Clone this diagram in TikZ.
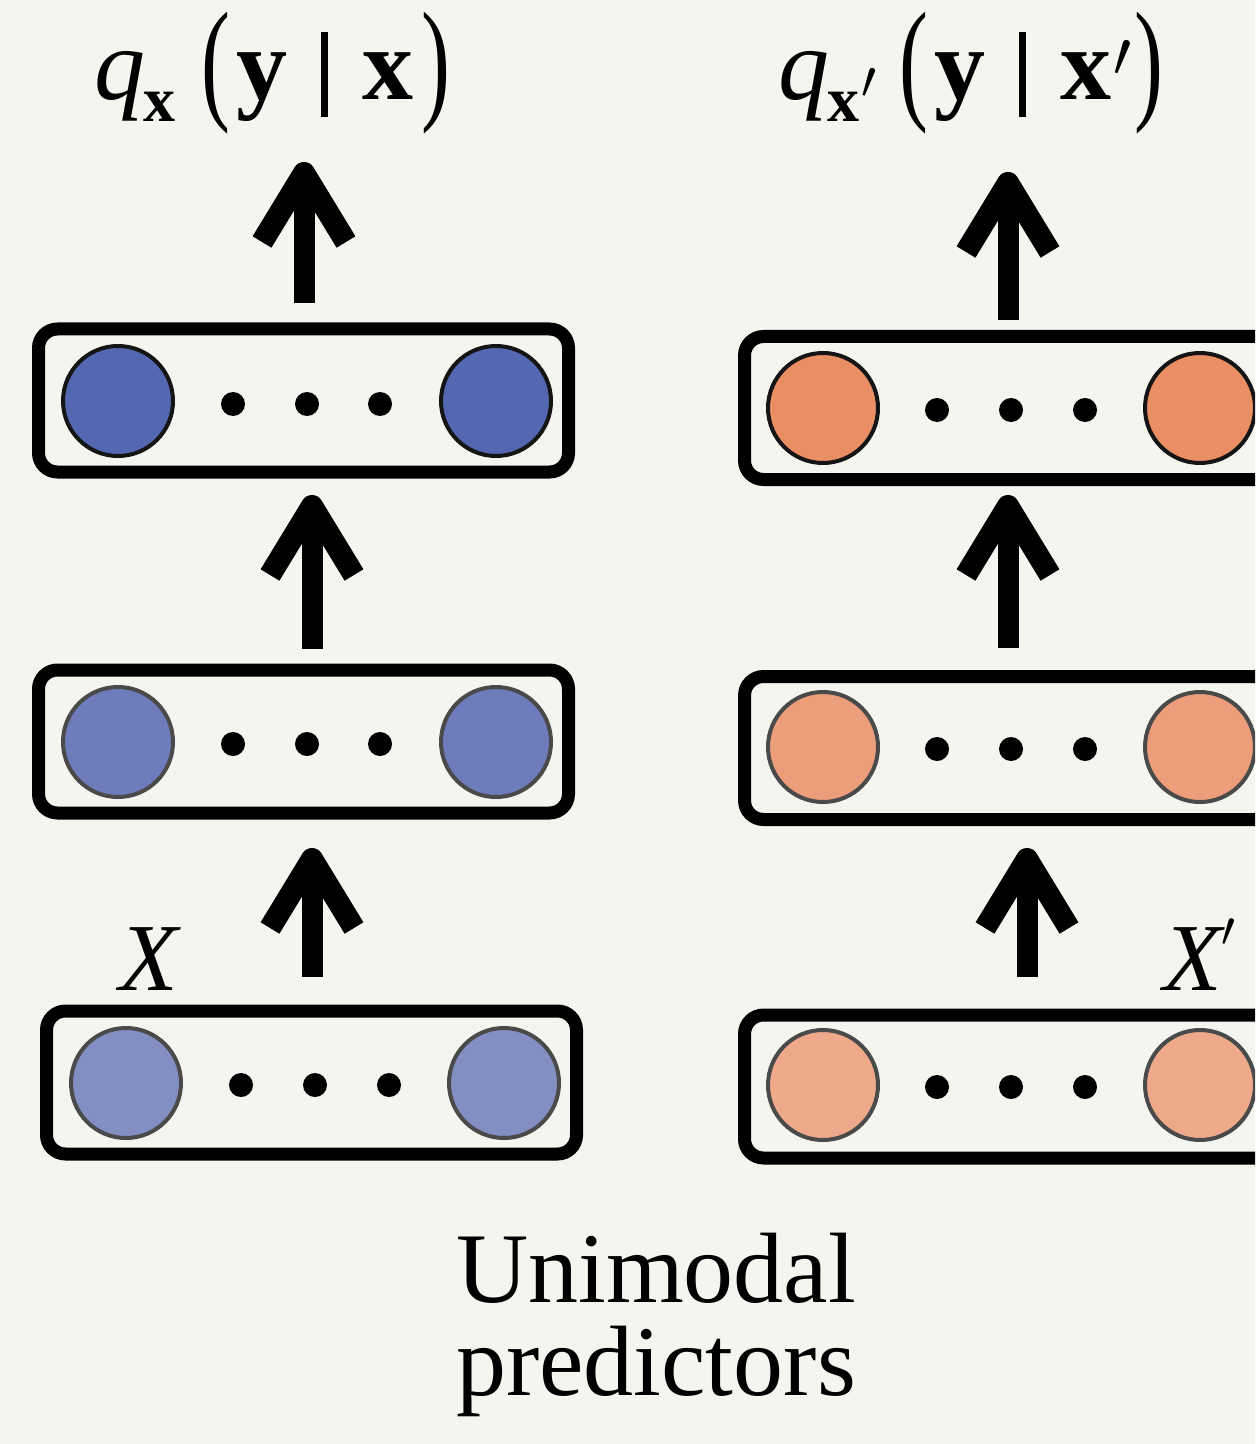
\documentclass[tikz,border=0pt]{standalone}
\usepackage{fontspec}
\usepackage{graphicx}
\setmainfont{Liberation Serif}
\usetikzlibrary{calc}

\definecolor{bgpaper}{HTML}{F5F5F0}
\definecolor{blueA}{HTML}{5468B2}
\definecolor{blueB}{HTML}{6E7CBC}
\definecolor{blueC}{HTML}{838FC3}
\definecolor{orangeA}{HTML}{EA8F64}
\definecolor{orangeB}{HTML}{EC9E7B}
\definecolor{orangeC}{HTML}{EEA98A}
\definecolor{rimdark}{HTML}{151515}
\definecolor{rimgrey}{HTML}{4A4A4A}

\tikzset{
  layerbox/.style={draw=black, line width=6.5pt, rounded corners=9.5pt,
    minimum width=265pt, minimum height=71.5pt, inner sep=0pt},
  unit/.style={circle, line width=2pt, minimum size=55pt, inner sep=0pt},
  ell/.style={circle, fill=black, minimum size=12pt, inner sep=0pt},
  shaftline/.style={line width=10.5pt},
  chevron/.style={line width=11pt, line join=round},
  mathlabel/.style={inner sep=0pt, anchor=base, font=\fontsize{48}{56}\selectfont},
  titlelabel/.style={inner sep=0pt, anchor=base west, font=\fontsize{51}{56}\selectfont},
  caption/.style={inner sep=0pt, anchor=base, font=\fontsize{50}{56}\selectfont},
}

% thick upward arrow: shaft from #1, open chevron head with its apex at #2
\newcommand\uparrowhead[2]{%
  \draw[shaftline] (#1) -- ($(#2)+(0,11)$);
  \draw[chevron] ($(#2)+(-42,80)$) -- ($(#2)+(0,11)$) -- ($(#2)+(42,80)$);
}
% pieces of the conditional-probability titles
\newcommand\subx[1]{\raisebox{-11pt}{\fontsize{32}{32}\selectfont\textbf{x}#1}}
\newcommand\tallparen[1]{\raisebox{-3pt}{\scalebox{0.85}[1.32]{#1}}}
\newcommand\condbar{\rule[-8.5pt]{3.5pt}{42.5pt}}
\newcommand\pr{\hspace{1pt}\scalebox{1.3}{$^{\prime}$}}

\begin{document}
\begin{tikzpicture}[x=0.5pt, y=-0.5pt]
  \fill[bgpaper] (0,0) rectangle (1255,1444);
  \useasboundingbox (0,0) rectangle (1255,1444);
  \clip (0,0) rectangle (1255,1444);

  % ---------- left stack ----------
  \node[layerbox] (L1) at (311.5,1082.5) {};
  \node[layerbox] (L2) at (303.5,741.5) {};
  \node[layerbox] (L3) at (303.5,400.5) {};

  \node[unit, fill=blueC, draw=rimgrey] (L1a) at (126,1083) {};
  \node[unit, fill=blueC, draw=rimgrey] (L1b) at (504,1083) {};
  \node[ell] (L1d1) at (241,1085) {};
  \node[ell] (L1d2) at (315,1085) {};
  \node[ell] (L1d3) at (389,1085) {};

  \node[unit, fill=blueB, draw=rimgrey] (L2a) at (118,742) {};
  \node[unit, fill=blueB, draw=rimgrey] (L2b) at (496,742) {};
  \node[ell] (L2d1) at (233,744) {};
  \node[ell] (L2d2) at (307,744) {};
  \node[ell] (L2d3) at (380,744) {};

  \node[unit, fill=blueA, draw=rimdark] (L3a) at (118,401) {};
  \node[unit, fill=blueA, draw=rimdark] (L3b) at (496,401) {};
  \node[ell] (L3d1) at (233,404) {};
  \node[ell] (L3d2) at (307,404) {};
  \node[ell] (L3d3) at (380,404) {};

  \node[mathlabel] (Xin) at (150,990) {\textit{X}};
  \node[titlelabel] (qL) at (94,100)
    {\textit{q}\hspace{-1pt}\subx{}\hspace{13pt}\tallparen{(}\hspace{3pt}\textbf{y}\hspace{17pt}\condbar\hspace{17pt}\textbf{x}\hspace{4pt}\tallparen{)}};

  \coordinate (la1s) at ($(L1.north)+(0.5,-28)$);
  \coordinate (la1t) at (312,848);
  \coordinate (la2s) at ($(L2.north)+(8.5,-15)$);
  \coordinate (la2t) at (312,495);
  \coordinate (la3s) at ($(L3.north)+(0.5,-19)$);
  \coordinate (la3t) at (304,162);
  \uparrowhead{la1s}{la1t}
  \uparrowhead{la2s}{la2t}
  \uparrowhead{la3s}{la3t}

  % ---------- right stack ----------
  \node[layerbox] (R1) at (1009.5,1086.5) {};
  \node[layerbox] (R2) at (1009.5,748) {};
  \node[layerbox] (R3) at (1009.5,408) {};

  \node[unit, fill=orangeC, draw=rimgrey] (R1a) at (823,1085) {};
  \node[unit, fill=orangeC, draw=rimgrey] (R1b) at (1200,1085) {};
  \node[ell] (R1d1) at (937,1087) {};
  \node[ell] (R1d2) at (1011,1087) {};
  \node[ell] (R1d3) at (1085,1087) {};

  \node[unit, fill=orangeB, draw=rimgrey] (R2a) at (823,747) {};
  \node[unit, fill=orangeB, draw=rimgrey] (R2b) at (1200,747) {};
  \node[ell] (R2d1) at (937,749) {};
  \node[ell] (R2d2) at (1011,749) {};
  \node[ell] (R2d3) at (1085,749) {};

  \node[unit, fill=orangeA, draw=rimdark] (R3a) at (823,408) {};
  \node[unit, fill=orangeA, draw=rimdark] (R3b) at (1200,408) {};
  \node[ell] (R3d1) at (937,410) {};
  \node[ell] (R3d2) at (1011,410) {};
  \node[ell] (R3d3) at (1085,410) {};

  \node[mathlabel] (Xpin) at (1200,990) {$\textit{X}'$};
  \node[titlelabel] (qR) at (778,100)
    {\textit{q}\hspace{-1pt}\subx{\pr}\hspace{11pt}\tallparen{(}\hspace{3pt}\textbf{y}\hspace{17pt}\condbar\hspace{17pt}\textbf{x}\pr\hspace{1pt}\tallparen{)}};

  \coordinate (ra1s) at (1027,977);
  \coordinate (ra1t) at (1027,848);
  \coordinate (ra2s) at (1008,648);
  \coordinate (ra2t) at (1008,495);
  \coordinate (ra3s) at (1008,320);
  \coordinate (ra3t) at (1008,172);
  \uparrowhead{ra1s}{ra1t}
  \uparrowhead{ra2s}{ra2t}
  \uparrowhead{ra3s}{ra3t}

  % ---------- caption ----------
  \node[caption] (cap1) at (656,1302) {Unimodal};
  \node[caption] (cap2) at (656,1395) {predictors};
\end{tikzpicture}
\end{document}
